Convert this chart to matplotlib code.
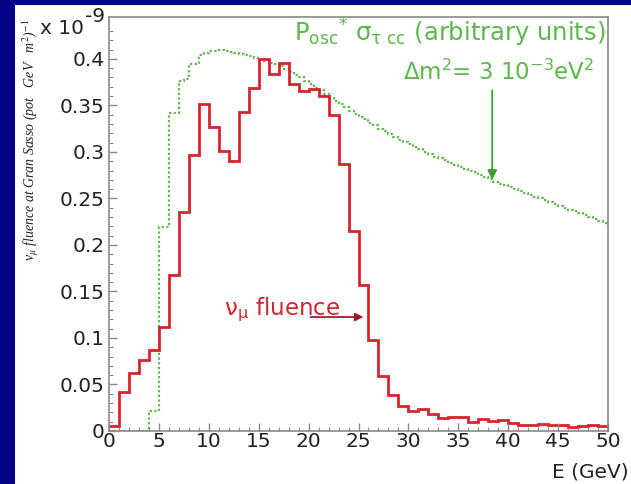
import matplotlib
matplotlib.use('Agg')
import matplotlib.pyplot as plt
from matplotlib.patches import Rectangle
import numpy as np

# nu_mu fluence, 1 GeV bins from 0 to 50 (units of 1e-9)
red_edges = np.arange(0, 51, 1)
red_fluence = [0.005, 0.042, 0.062, 0.076, 0.087, 0.112, 0.168, 0.235, 0.297, 0.352,
               0.327, 0.301, 0.290, 0.343, 0.369, 0.400, 0.384, 0.396, 0.373, 0.365,
               0.368, 0.360, 0.340, 0.287, 0.215, 0.157, 0.098, 0.059, 0.039, 0.027,
               0.021, 0.024, 0.018, 0.0135, 0.015, 0.015, 0.010, 0.013, 0.011, 0.012,
               0.009, 0.0065, 0.006, 0.0075, 0.006, 0.006, 0.0045, 0.005, 0.006, 0.005]

# P_osc * sigma_tau cc, 0.5 GeV bins from 0 to 50 (arbitrary units)
green_edges = np.arange(0, 50.5, 0.5)
green_posc = [0, 0, 0, 0, 0, 0, 0, 0, 0.022, 0.022,
              0.219, 0.219, 0.342, 0.342, 0.376, 0.378, 0.394, 0.395, 0.404, 0.406,
              0.408, 0.408, 0.409, 0.408, 0.407, 0.406, 0.405, 0.404, 0.403, 0.401,
              0.399, 0.398, 0.396, 0.394, 0.392, 0.389, 0.386, 0.383, 0.380, 0.376,
              0.373, 0.369, 0.366, 0.362, 0.358, 0.355, 0.352, 0.348, 0.344, 0.341,
              0.338, 0.335, 0.331, 0.329, 0.325, 0.322, 0.319, 0.316, 0.313, 0.311,
              0.308, 0.305, 0.303, 0.300, 0.298, 0.295, 0.293, 0.291, 0.288, 0.286,
              0.284, 0.282, 0.280, 0.278, 0.275, 0.273, 0.271, 0.268, 0.266, 0.264,
              0.262, 0.260, 0.258, 0.256, 0.254, 0.252, 0.250, 0.248, 0.246, 0.244,
              0.242, 0.240, 0.238, 0.236, 0.234, 0.232, 0.230, 0.228, 0.226, 0.224]

x_ticks = np.arange(0, 51, 5)
y_ticks = [0, 0.05, 0.1, 0.15, 0.2, 0.25, 0.3, 0.35, 0.4]
y_labels = ['0', '0.05', '0.1', '0.15', '0.2', '0.25', '0.3', '0.35', '0.4']

W, H = 631, 484
RED = '#d8232f'
GREEN = '#5cb84c'
NAVY = '#030389'

def fx(px):
    return px / W

def fy(py):
    return 1 - py / H

fig = plt.figure(figsize=(W / 100, H / 100), dpi=100, facecolor=NAVY)
fig.patches.append(Rectangle((fx(15), 0), 1 - fx(15), fy(5), transform=fig.transFigure,
                             facecolor='white', edgecolor='none', zorder=-10))

ax = fig.add_axes([fx(109), fy(431), fx(608) - fx(109), fy(17) - fy(431)])
ax.set_facecolor('none')
ax.stairs(green_posc, green_edges, baseline=None, color=GREEN, lw=1.6,
          linestyle=(0, (1, 1.1)))
ax.stairs(red_fluence, red_edges, baseline=None, color=RED, lw=2.0)

ax.set_xlim(0, 50)
ax.set_ylim(0, 0.445)
ax.set_xticks(x_ticks)
ax.set_xticks(np.arange(0, 51, 1), minor=True)
ax.set_yticks(y_ticks, y_labels)
ax.set_yticks(np.arange(0, 0.44, 0.01), minor=True)
ax.tick_params(which='both', direction='in', color='#888888', labelsize=14.5,
               labelcolor='#222222')
ax.tick_params(which='major', length=6, width=1)
ax.tick_params(which='minor', length=3, width=0.8)
ax.tick_params(axis='x', pad=1)
ax.tick_params(axis='y', pad=3)
for s in ax.spines.values():
    s.set_color('#8a8a8a')
    s.set_linewidth(1.2)

# arrows
ax.annotate('', xy=(38.4, 0.270), xytext=(38.4, 0.366),
            arrowprops=dict(arrowstyle='-|>', color='#3f9a34', lw=1.3,
                            mutation_scale=14, shrinkA=0, shrinkB=0))
ax.annotate('', xy=(25.5, 0.1225), xytext=(20.2, 0.1225),
            arrowprops=dict(arrowstyle='-|>', color='#a01e2a', lw=1.3,
                            mutation_scale=12, shrinkA=0, shrinkB=0))

# texts
fig.text(fx(84), fy(28), 'x 10', ha='right', va='center', size=14.5, color='#222222')
fig.text(fx(85), fy(17), '-9', ha='left', va='center', size=14.5, color='#222222')
fig.text(fx(629), fy(472), 'E (GeV)', ha='right', va='center', size=14.5, color='#222222')
fig.text(fx(606), fy(33),
         r'P$_{\mathrm{osc}}$$^{*}$ σ$_{\mathrm{τ\ cc}}$ (arbitrary units)',
         ha='right', va='center', size=17.5, color=GREEN)
fig.text(fx(594), fy(72), r'Δm$^2$= 3 10$^{-3}$eV$^2$',
         ha='right', va='center', size=16.5, color=GREEN)
fig.text(fx(224), fy(310), r'ν$_{\mathrm{μ}}$ fluence', ha='left', va='center',
         size=16.5, color=RED)
fig.text(fx(31), fy(140), r'ν$_{\mu}$ fluence at Gran Sasso (pot   GeV   m$^2$)$^{-1}$',
         rotation=90, ha='center', va='center', size=10, color='#222222',
         family='Liberation Serif', style='italic', math_fontfamily='stix')

fig.savefig('out.png', dpi=100, facecolor=NAVY)
